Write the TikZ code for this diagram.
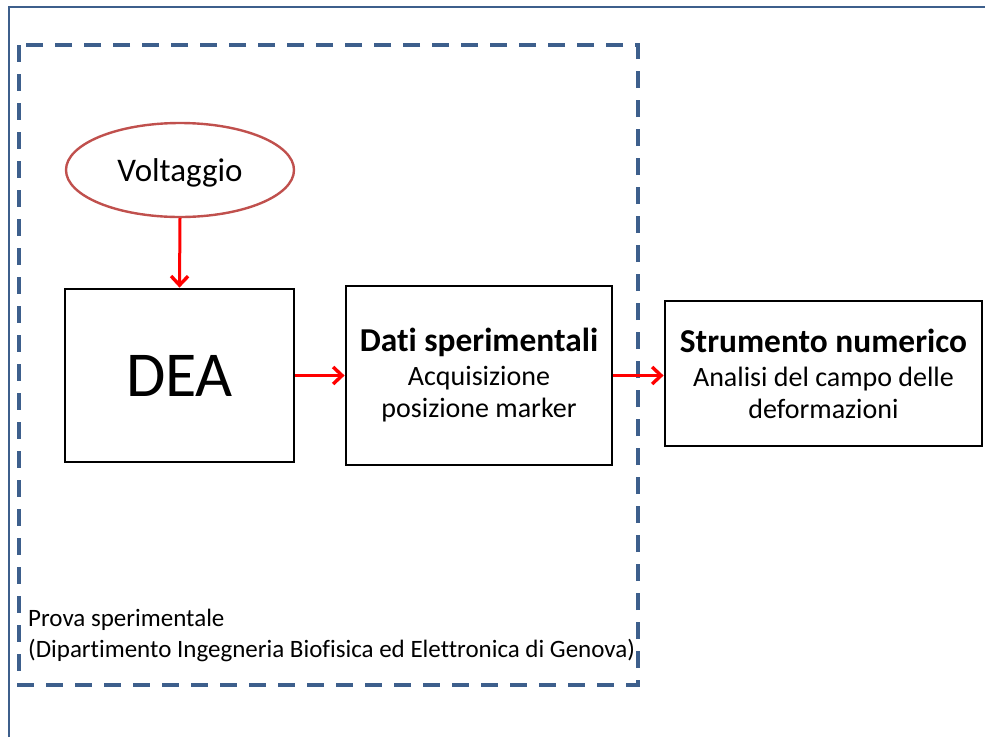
\documentclass[tikz,border=0pt]{standalone}
\usepackage{fontspec}
\setmainfont{Carlito}[Ligatures=NoCommon]
\usetikzlibrary{arrows.meta,shapes.geometric}
\definecolor{frameblue}{HTML}{3D5F8C}
\definecolor{ovalred}{HTML}{C0504D}
\begin{document}
\begin{tikzpicture}[x=1pt,y=-1pt,
  block/.style={draw=black,line width=2.8pt,rectangle,inner sep=0pt,align=center},
  flow/.style={draw=red,line width=3pt,-{Straight Barb[length=9pt,width=17pt,line width=3.4pt]}},
  sz/.style 2 args={font=\fontsize{#1}{#2}\selectfont}]
\useasboundingbox (0,0) rectangle (985,737);
% outer frame (open to the right and bottom)
\draw[frameblue,line width=2.8pt] (9,737) -- (9,7) -- (985,7);
% dashed region of the experimental part
\draw[frameblue,line width=3.6pt,dash pattern=on 17pt off 12pt]
  (19,45) rectangle (638,685);
% nodes
\node[ellipse,draw=ovalred,line width=2.4pt,minimum width=228pt,minimum height=94pt,
  inner sep=0pt,text depth=0pt,sz={33}{38}] (volt) at (180,170) {Voltaggio};
\node[block,minimum width=229pt,minimum height=173pt,sz={64}{70}] (dea) at (179.5,375.5) {DEA};
\node[block,minimum width=266pt,minimum height=179pt,sz={28}{32}] (dati) at (479,375.5)
  {{\fontsize{33.4}{36}\selectfont\bfseries Dati sperimentali}\\[2pt]Acquisizione\\posizione marker};
\node[block,minimum width=317pt,minimum height=145pt,sz={28}{32}] (stru) at (823.5,373.5)
  {{\fontsize{33.4}{36}\selectfont\bfseries Strumento numerico}\\[2pt]Analisi del campo delle\\deformazioni};
\node[anchor=north west,align=left,inner sep=0pt,sz={25}{31}] (prova) at (28,609)
  {Prova sperimentale\\(Dipartimento Ingegneria Biofisica ed Elettronica di Genova)};
% connectors
\draw[flow] (volt.south) -- (dea.north);
\draw[flow] (dea.east) -- (dati.west);
\draw[flow] (dati.east) -- (dati.east -| stru.west);
\end{tikzpicture}
\end{document}
